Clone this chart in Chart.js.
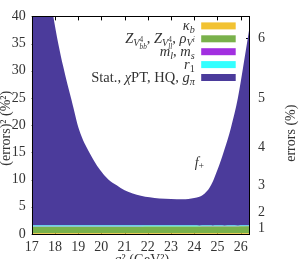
<!DOCTYPE html>
<html>
<head>
<meta charset="utf-8">
<script src="https://cdn.jsdelivr.net/npm/chart.js@4"></script>
<style>
  html, body { margin: 0; padding: 0; background: #fff; overflow: hidden; }
  canvas { display: block; }
</style>
</head>
<body>
<canvas id="c" width="299" height="259"></canvas>
<script>
// q^2 grid (GeV^2) shared by every stacked layer
const qsq = [17, 17.5, 17.93, 18.36, 18.72, 19.05, 19.5, 19.93, 20.3, 20.66,
  21.0, 21.35, 21.7, 22.08, 22.5, 23.0, 23.5, 24.0, 24.22, 24.45,
  24.65, 24.8, 24.95, 25.1, 25.3, 25.58, 25.88, 26.1, 26.4];

// squared error contributions (%^2), bottom layer first
const kappaB = [0.12, 0.12, 0.12, 0.12, 0.12, 0.12, 0.12, 0.12, 0.12, 0.12,
  0.12, 0.12, 0.12, 0.12, 0.12, 0.12, 0.12, 0.12, 0.12, 0.12,
  0.12, 0.12, 0.12, 0.12, 0.12, 0.12, 0.12, 0.12, 0.12];
const zFactors = [1.22, 1.22, 1.22, 1.22, 1.22, 1.22, 1.22, 1.22, 1.22, 1.23,
  1.23, 1.23, 1.23, 1.24, 1.24, 1.24, 1.25, 1.25, 1.25, 1.26,
  1.26, 1.26, 1.27, 1.27, 1.27, 1.28, 1.28, 1.29, 1.3];
const quarkMasses = [0.03, 0.03, 0.03, 0.03, 0.03, 0.03, 0.03, 0.03, 0.03, 0.03,
  0.03, 0.03, 0.03, 0.03, 0.03, 0.03, 0.03, 0.03, 0.03, 0.03,
  0.03, 0.03, 0.03, 0.03, 0.03, 0.03, 0.03, 0.03, 0.03];
const r1Scale = [0.18, 0.18, 0.18, 0.18, 0.18, 0.18, 0.17, 0.17, 0.17, 0.17,
  0.16, 0.16, 0.16, 0.15, 0.15, 0.15, 0.14, 0.14, 0.13, 0.13,
  0.13, 0.12, 0.12, 0.12, 0.11, 0.11, 0.1, 0.1, 0.1];
const statEtc = [73.5, 51.5, 38.5, 29.2, 23.0, 17.5, 13.3, 10.3, 8.5, 7.4,
  6.5, 5.9, 5.5, 5.2, 5.0, 4.9, 4.85, 5.1, 5.3, 5.9,
  6.9, 8.1, 9.7, 11.4, 14.0, 18.0, 23.5, 29.0, 37.0];

const xTicks = [17, 18, 19, 20, 21, 22, 23, 24, 25, 26];
const yTicks = [0, 5, 10, 15, 20, 25, 30, 35, 40];
const rightTickPos = [1, 4, 9, 16, 25, 36];
const rightTickLabels = ['1', '2', '3', '4', '5', '6'];

const FONT = '"Liberation Serif", "DejaVu Serif", serif';
const TEXT = '#333';

// legend labels as rich text: t text, i italic, s scale, dy shift, back = stack next on same x
const legendItems = [
  { color: '#f2c232', segs: [{ t: 'κ', i: 1 }, { t: 'b', i: 1, s: 0.7, dy: 3 }] },
  { color: '#79b14b', segs: [
    { t: 'Z', i: 1 }, { t: 'V', i: 1, s: 0.7, dy: 3 }, { t: '4', s: 0.5, dy: -1, back: 1 }, { t: 'bb', i: 1, s: 0.5, dy: 6 },
    { t: ', ' }, { t: 'Z', i: 1 }, { t: 'V', i: 1, s: 0.7, dy: 3 }, { t: '4', s: 0.5, dy: -1, back: 1 }, { t: 'll', i: 1, s: 0.5, dy: 6 },
    { t: ', ' }, { t: 'ρ', i: 1 }, { t: 'V', i: 1, s: 0.7, dy: 3 }, { t: 'i', i: 1, s: 0.5, dy: -1 }] },
  { color: '#a22fe0', segs: [{ t: 'm', i: 1 }, { t: 'l', i: 1, s: 0.7, dy: 3 }, { t: ', ' }, { t: 'm', i: 1 }, { t: 's', i: 1, s: 0.7, dy: 3 }] },
  { color: '#33ffff', segs: [{ t: 'r', i: 1 }, { t: '1', s: 0.7, dy: 3 }] },
  { color: '#4b3b9b', segs: [{ t: 'Stat., ' }, { t: 'χ', i: 1 }, { t: 'PT, HQ, ' }, { t: 'g', i: 1 }, { t: 'π', i: 1, s: 0.7, dy: 3 }] },
];

function layoutRich(ctx, segs, size) {
  let x = 0, back = null;
  const items = [];
  for (const g of segs) {
    const font = (g.i ? 'italic ' : '') + (size * (g.s || 1)) + 'px ' + FONT;
    ctx.font = font;
    const w = ctx.measureText(g.t).width;
    items.push({ t: g.t, font, x, dy: g.dy || 0 });
    if (g.back) { back = w; }
    else { x += back != null ? Math.max(w, back) : w; back = null; }
  }
  return { items, width: x };
}

function drawRich(ctx, segs, x, y, size, align) {
  const l = layoutRich(ctx, segs, size);
  const x0 = align === 'right' ? x - l.width : align === 'center' ? x - l.width / 2 : x;
  ctx.textAlign = 'left';
  ctx.textBaseline = 'alphabetic';
  for (const it of l.items) {
    ctx.font = it.font;
    ctx.fillText(it.t, x0 + it.x, y + it.dy);
  }
}

const decorations = {
  id: 'decorations',
  beforeDatasetsDraw(chart) {
    // inward tick marks, hidden by the filled areas like the original
    const { ctx, chartArea: a, scales } = chart;
    ctx.save();
    ctx.strokeStyle = '#000';
    ctx.lineWidth = 1;
    ctx.beginPath();
    for (const v of xTicks) {
      const px = Math.round(scales.x.getPixelForValue(v)) + 0.5;
      ctx.moveTo(px, a.top); ctx.lineTo(px, a.top + 4);
      ctx.moveTo(px, a.bottom); ctx.lineTo(px, a.bottom - 4);
    }
    for (const v of yTicks) {
      const py = Math.round(scales.y.getPixelForValue(v)) + 0.5;
      ctx.moveTo(a.left, py); ctx.lineTo(a.left + 4, py);
    }
    for (const v of rightTickPos) {
      const py = Math.round(scales.y2.getPixelForValue(v)) + 0.5;
      ctx.moveTo(a.right, py); ctx.lineTo(a.right - 4, py);
    }
    ctx.stroke();
    ctx.restore();
  },
  afterDatasetsDraw(chart) {
    const { ctx, chartArea: a } = chart;
    ctx.save();
    ctx.strokeStyle = '#000';
    ctx.lineWidth = 1;
    ctx.strokeRect(Math.round(a.left) + 0.5, Math.round(a.top) + 0.5,
      Math.round(a.right - a.left) - 1, Math.round(a.bottom - a.top));

    // legend
    const textRight = a.left + 163;
    const boxLeft = a.left + 169.5;
    legendItems.forEach((item, k) => {
      const cy = a.top + 9.5 + k * 12.9;
      ctx.fillStyle = TEXT;
      drawRich(ctx, item.segs, textRight, cy + 4, 14.5, 'right');
      ctx.fillStyle = item.color;
      ctx.fillRect(boxLeft, cy - 3.5, 34.5, 7);
    });

    // curve label
    ctx.fillStyle = TEXT;
    drawRich(ctx, [{ t: 'f', i: 1 }, { t: '+', s: 0.7, dy: 2 }], a.left + 163, a.top + 151, 14, 'left');

    // axis titles
    ctx.save();
    ctx.translate(5, (a.top + a.bottom) / 2 + 3);
    ctx.rotate(-Math.PI / 2);
    drawRich(ctx, [{ t: '(errors)² (%²)' }], 0, 4.5, 14, 'center');
    ctx.restore();

    ctx.save();
    ctx.translate(290, (a.top + a.bottom) / 2 + 8);
    ctx.rotate(-Math.PI / 2);
    drawRich(ctx, [{ t: 'errors (%)' }], 0, 4.5, 14, 'center');
    ctx.restore();

    drawRich(ctx, [{ t: 'q', i: 1 }, { t: '² (GeV²)' }], (a.left + a.right) / 2 + 1, 264, 14, 'center');
    ctx.restore();
  }
};

const pts = arr => arr.map((v, i) => ({ x: qsq[i], y: v }));
const layer = (label, data, color, fill) => ({
  label, data: pts(data), backgroundColor: color, borderWidth: 0,
  pointRadius: 0, fill, cubicInterpolationMode: 'monotone'
});

const tickFont = { family: FONT, size: 14 };

new Chart(document.getElementById('c'), {
  type: 'line',
  data: {
    datasets: [
      layer('kappa_b', kappaB, '#f2c232', 'origin'),
      layer('Z', zFactors, '#79b14b', '-1'),
      layer('m_l, m_s', quarkMasses, '#a22fe0', '-1'),
      layer('r1', r1Scale, '#33ffff', '-1'),
      layer('Stat', statEtc, '#4b3b9b', '-1'),
    ]
  },
  options: {
    responsive: false,
    animation: false,
    devicePixelRatio: 1,
    layout: { padding: { top: 15.5, left: 0, right: 0, bottom: 0 } },
    plugins: { legend: { display: false }, tooltip: { enabled: false } },
    scales: {
      x: {
        type: 'linear', min: 17, max: 26.4,
        grid: { display: false, drawTicks: false }, border: { display: false },
        afterBuildTicks: s => { s.ticks = xTicks.map(v => ({ value: v })); },
        afterFit: s => { s.height = 25; },
        ticks: { color: TEXT, font: tickFont, padding: 5, maxRotation: 0 }
      },
      y: {
        stacked: true, min: 0, max: 40,
        grid: { display: false, drawTicks: false }, border: { display: false },
        afterBuildTicks: s => { s.ticks = yTicks.map(v => ({ value: v })); },
        afterFit: s => { s.width = 31.7; },
        ticks: { color: TEXT, font: tickFont, padding: 6 }
      },
      y2: {
        position: 'right', min: 0, max: 40,
        grid: { display: false, drawTicks: false }, border: { display: false },
        afterBuildTicks: s => { s.ticks = rightTickPos.map(v => ({ value: v })); },
        afterFit: s => { s.width = 49; },
        ticks: {
          color: TEXT, font: tickFont, padding: 8,
          callback: (v, i) => rightTickLabels[i]
        }
      }
    }
  },
  plugins: [decorations]
});
</script>
</body>
</html>
